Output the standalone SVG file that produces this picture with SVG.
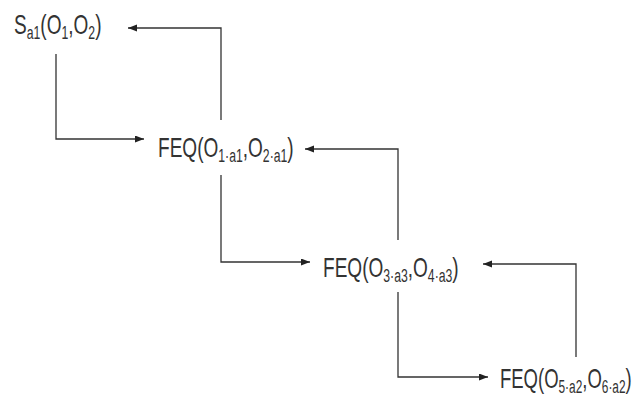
<svg xmlns="http://www.w3.org/2000/svg" width="633" height="398" viewBox="0 0 633 398">
<style>
.t{font-family:"Liberation Sans",Arial,sans-serif;font-size:28px;fill:#333}
.s{font-size:18px}
.c{fill:none;stroke:#333;stroke-width:1.3}
</style>
<defs>
<marker id="ah" markerUnits="userSpaceOnUse" markerWidth="10" markerHeight="8" refX="9" refY="3.5" orient="auto">
<path d="M0,0 L9,3.5 L0,7 z" fill="#222"/>
</marker>
</defs>
<rect width="633" height="398" fill="#fff"/>
<g id="connectors">
<path class="c" d="M221,120 V28 H128" marker-end="url(#ah)"/>
<path class="c" d="M56,54 V139 H144" marker-end="url(#ah)"/>
<path class="c" d="M221,175 V262 H310" marker-end="url(#ah)"/>
<path class="c" d="M398,240 V149 H305" marker-end="url(#ah)"/>
<path class="c" d="M398,292 V377 H488" marker-end="url(#ah)"/>
<path class="c" d="M576,357 V264 H483" marker-end="url(#ah)"/>
</g>
<g id="n0" transform="translate(14,34) scale(0.68,1)">
<text class="t" x="0" y="0">S<tspan class="s" dy="5">a1</tspan><tspan dy="-5">(O</tspan><tspan class="s" dy="5">1</tspan><tspan dy="-5">,O</tspan><tspan class="s" dy="5">2</tspan><tspan dy="-5">)</tspan></text>
</g>
<g id="n1" transform="translate(158,157) scale(0.68,1)">
<text class="t" x="0" y="0">FEQ(O<tspan class="s" dy="5">1·a1</tspan><tspan dy="-5">,O</tspan><tspan class="s" dy="5">2·a1</tspan><tspan dy="-5">)</tspan></text>
</g>
<g id="n2" transform="translate(323,277) scale(0.68,1)">
<text class="t" x="0" y="0">FEQ(O<tspan class="s" dy="5">3·a3</tspan><tspan dy="-5">,O</tspan><tspan class="s" dy="5">4·a3</tspan><tspan dy="-5">)</tspan></text>
</g>
<g id="n3" transform="translate(500,388) scale(0.66,1)">
<text class="t" x="0" y="0">FEQ(O<tspan class="s" dy="5">5·a2</tspan><tspan dy="-5">,O</tspan><tspan class="s" dy="5">6·a2</tspan><tspan dy="-5">)</tspan></text>
</g>
</svg>
